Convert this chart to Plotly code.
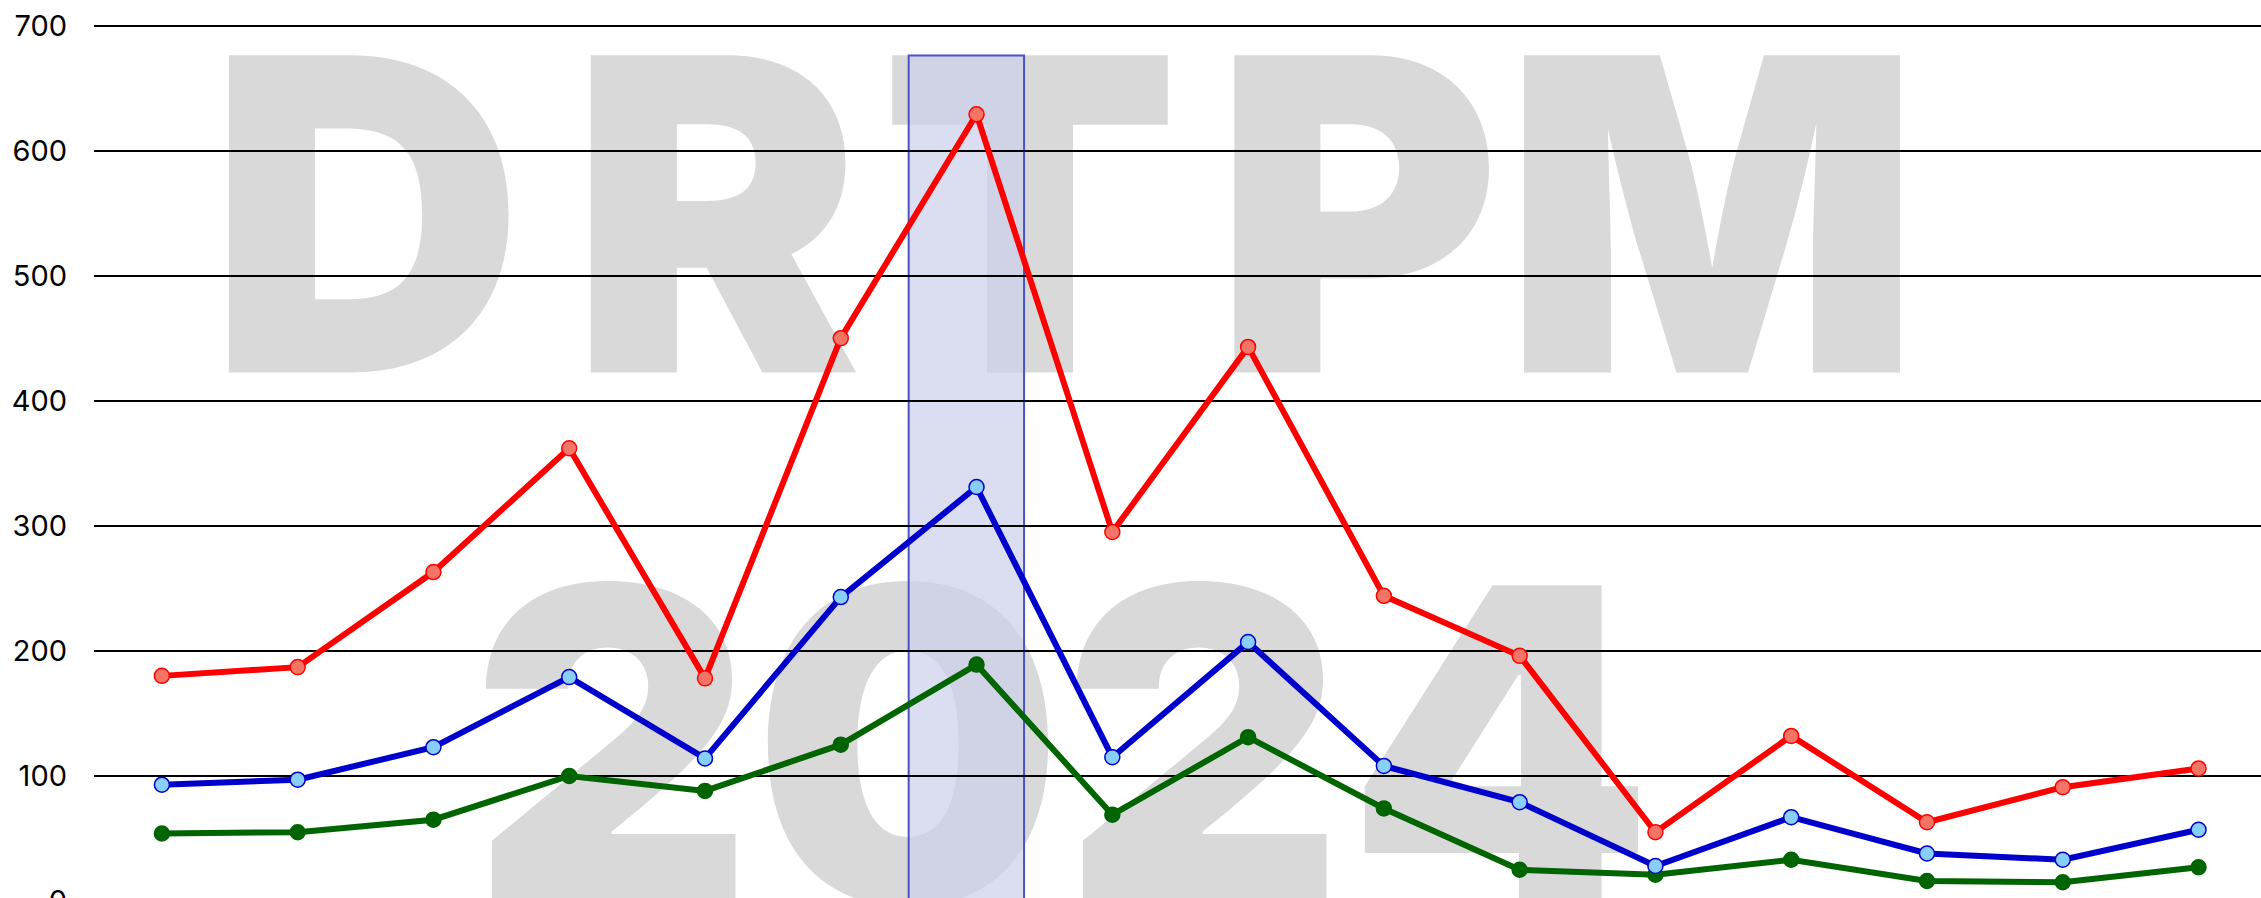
import plotly.graph_objects as go

x_idx = list(range(16))
red_vals = [180, 187, 263, 362, 178, 450, 629, 295, 443, 244, 196, 55, 132, 63, 91, 106]
blue_vals = [93, 97, 123, 179, 114, 243, 331, 115, 207, 108, 79, 28, 67, 38, 33, 57]
green_vals = [54, 55, 65, 100, 88, 125, 189, 69, 131, 74, 25, 21, 33, 16, 15, 27]
y_ticks = [0, 100, 200, 300, 400, 500, 600, 700]
band_x = [5.5, 6.35]
band_top = 676
wm_line1 = "DRTPM"
wm_line2 = "2024"

# layout geometry (pixels)
W, H = 2261, 960
ML, MR, MT, MB = 94, 0, 23, 59
PW, PH = W - ML - MR, H - MT - MB

def px_to_paper(px, py):
    return (px - ML) / PW, (H - MB - py) / PH

fig = go.Figure()
fig.add_trace(go.Scatter(x=x_idx, y=green_vals, mode="lines+markers",
                         line=dict(color="#006400", width=6),
                         marker=dict(size=15, color="#006400", line=dict(color="#006400", width=1.5))))
fig.add_trace(go.Scatter(x=x_idx, y=blue_vals, mode="lines+markers",
                         line=dict(color="#0000CD", width=6),
                         marker=dict(size=15, color="#87CEFA", line=dict(color="#0000CD", width=1.5))))
fig.add_trace(go.Scatter(x=x_idx, y=red_vals, mode="lines+markers",
                         line=dict(color="#FF0000", width=6),
                         marker=dict(size=15, color="#F47466", line=dict(color="#FF0000", width=1.5))))

# watermark: each glyph placed at its centre (pixel positions)
wm_size = 436
wm_font = dict(family="Inter", size=wm_size, color="#d9d9d9", weight=900)
line1_cx = [366, 716, 1030, 1357, 1712]
line2_cx = [612, 908, 1203, 1500]
line1_cy = 213 - 13
line2_cy = 741 - 11
for ch, cx in zip(wm_line1, line1_cx):
    xp, yp = px_to_paper(cx, line1_cy)
    fig.add_shape(type="rect", xref="paper", yref="paper", x0=xp - 0.005, x1=xp + 0.005,
                  y0=yp - 0.005, y1=yp + 0.005, fillcolor="rgba(0,0,0,0)", line=dict(width=0),
                  layer="below", label=dict(text=ch, font=wm_font, textposition="middle center"))
for ch, cx in zip(wm_line2, line2_cx):
    xp, yp = px_to_paper(cx, line2_cy)
    fig.add_shape(type="rect", xref="paper", yref="paper", x0=xp - 0.005, x1=xp + 0.005,
                  y0=yp - 0.005, y1=yp + 0.005, fillcolor="rgba(0,0,0,0)", line=dict(width=0),
                  layer="below", label=dict(text=ch, font=wm_font, textposition="middle center"))

fig.add_shape(type="rect", xref="x", yref="y", x0=band_x[0], x1=band_x[1], y0=-60, y1=band_top,
              fillcolor="rgba(204,207,233,0.7)", line=dict(color="#4a52c4", width=2), layer="below")

fig.update_layout(
    width=W, height=H,
    margin=dict(l=ML, r=MR, t=MT, b=MB),
    paper_bgcolor="white", plot_bgcolor="white",
    showlegend=False,
    font=dict(family="Inter", size=29, color="black"),
)
fig.update_xaxes(range=[-0.5, 15.46], showgrid=False, zeroline=False, showticklabels=False,
                 showline=False)
fig.update_yaxes(range=[0, 702], tickvals=y_ticks, showgrid=True, gridcolor="black", gridwidth=1.5,
                 zeroline=False, showline=False, ticks="", ticklabelstandoff=26,
                 tickfont=dict(family="Inter", size=29, color="black"))

fig.write_html("out.html")
